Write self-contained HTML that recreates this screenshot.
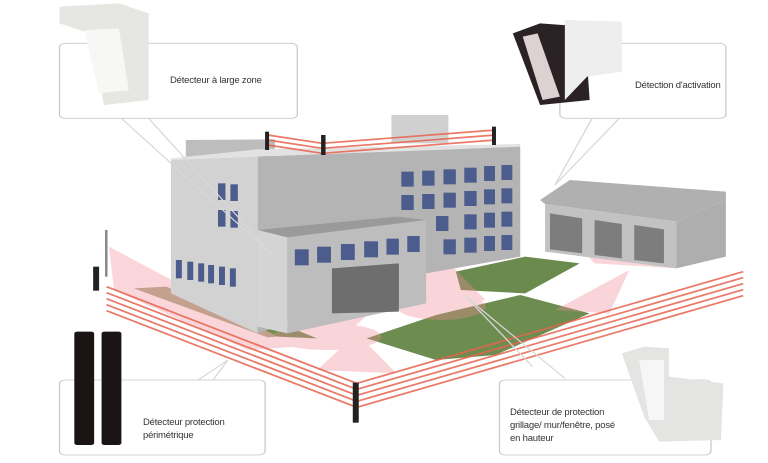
<!DOCTYPE html>
<html><head><meta charset="utf-8"><style>
html,body{margin:0;padding:0;background:#fff;}
#w{position:relative;width:768px;height:463px;overflow:hidden;font-family:"Liberation Sans",sans-serif;}
svg{position:absolute;left:0;top:0;}
.t{position:absolute;font-size:9.5px;color:#333;line-height:13px;letter-spacing:-0.2px;}
</style></head><body><div id="w">
<svg width="768" height="463" viewBox="0 0 1550 1389" preserveAspectRatio="none">
<!-- callout boxes -->
<g fill="#fff" stroke="#c8c8c8" stroke-width="2.5">
<rect x="120" y="130" width="480" height="225" rx="12"/>
<rect x="1130" y="130" width="335" height="225" rx="12"/>
<rect x="120" y="1140" width="415" height="225" rx="12"/>
<rect x="1008" y="1140" width="427" height="225" rx="12"/>
</g>
<!-- ground -->
<polygon points="270,865 335,860 595,1005 540,1012" fill="#8a8a5a" opacity="0.7"/>
<polygon points="520,980 560,1010 640,1015 590,985" fill="#6f8f50"/>
<polygon points="920,815 1060,770 1170,790 1060,880 930,870" fill="#6a8a4e"/>
<polygon points="740,1015 880,945 1050,885 1190,940 1000,1065 880,1080" fill="#6d8d50"/>
<!-- pink zones -->
<g fill="#f08a98" opacity="0.35">
<polygon points="220,740 600,1040 500,1050 230,870"/>
<polygon points="580,790 760,920 700,1000 620,990"/>
<polygon points="860,720 980,900 820,940"/>
<polygon points="1270,810 1230,940 1120,930"/>
<polygon points="720,1000 800,1120 640,1110"/>
<polygon points="1100,630 1365,760 1365,805 1200,790"/>
<ellipse cx="890" cy="920" rx="90" ry="40"/>
<ellipse cx="660" cy="1010" rx="110" ry="40"/>
</g>
<!-- main building -->
<polygon points="375,420 555,418 555,470 375,470" fill="#bdbdbd"/>
<polygon points="790,345 905,345 905,430 790,430" fill="#d0d0d0"/>
<polygon points="345,475 520,448 1050,432 1050,440 520,470 345,480" fill="#e2e2e2"/>
<polygon points="345,480 520,470 520,1000 345,880" fill="#d2d2d2"/>
<polygon points="520,470 1050,440 1050,770 860,820 520,1000" fill="#b4b4b4"/>
<g fill="#4c5c8c">
<rect x="810" y="515" width="25" height="45"/><rect x="852" y="512" width="25" height="45"/><rect x="895" y="508" width="25" height="45"/><rect x="937" y="503" width="25" height="45"/><rect x="977" y="498" width="22" height="45"/><rect x="1012" y="495" width="22" height="45"/>
<rect x="810" y="585" width="25" height="45"/><rect x="852" y="582" width="25" height="45"/><rect x="895" y="578" width="25" height="45"/><rect x="937" y="573" width="25" height="45"/><rect x="977" y="568" width="22" height="45"/><rect x="1012" y="565" width="22" height="45"/>
<rect x="880" y="648" width="25" height="45"/><rect x="937" y="643" width="25" height="45"/><rect x="977" y="638" width="22" height="45"/><rect x="1012" y="635" width="22" height="45"/>
<rect x="895" y="718" width="25" height="45"/><rect x="937" y="713" width="25" height="45"/><rect x="977" y="708" width="22" height="45"/><rect x="1012" y="705" width="22" height="45"/>
<rect x="440" y="550" width="15" height="50"/><rect x="465" y="553" width="15" height="50"/>
<rect x="440" y="630" width="15" height="50"/><rect x="465" y="633" width="15" height="50"/>
<rect x="355" y="780" width="12" height="55"/><rect x="378" y="785" width="12" height="55"/><rect x="400" y="790" width="12" height="55"/><rect x="420" y="795" width="12" height="55"/><rect x="442" y="800" width="12" height="55"/><rect x="464" y="805" width="12" height="55"/>
</g>
<!-- annex -->
<polygon points="520,690 800,650 860,660 580,712" fill="#9a9a9a"/>
<polygon points="520,690 580,712 580,1000 520,980" fill="#d4d4d4"/>
<polygon points="580,712 860,660 860,910 580,1000" fill="#bdbdbd"/>
<g fill="#4c5c8c">
<rect x="595" y="748" width="28" height="48"/><rect x="640" y="740" width="28" height="48"/><rect x="688" y="732" width="28" height="48"/><rect x="735" y="724" width="28" height="48"/><rect x="780" y="716" width="25" height="48"/><rect x="822" y="708" width="25" height="48"/>
</g>
<polygon points="670,805 805,790 805,935 670,940" fill="#6e6e6e"/>
<!-- garage -->
<polygon points="1090,600 1150,540 1465,575 1465,600 1365,665 1100,612" fill="#b0b0b0"/>
<polygon points="1100,612 1365,665 1365,805 1100,755" fill="#c2c2c2"/>
<polygon points="1365,665 1465,600 1465,770 1365,805" fill="#aeaeae"/>
<g fill="#7d7d7d"><polygon points="1110,640 1175,655 1175,760 1110,748"/><polygon points="1200,660 1255,672 1255,775 1200,765"/><polygon points="1280,675 1340,688 1340,790 1280,780"/></g>
<!-- red beams -->
<g stroke="#e8624e" stroke-width="5" fill="none" opacity="0.85">
<polyline points="215,860 720,1150 1500,815"/>
<polyline points="215,878 720,1168 1500,833"/>
<polyline points="215,896 720,1186 1500,851"/>
<polyline points="215,914 720,1204 1500,869"/>
<polyline points="215,932 720,1222 1500,887"/>
<polyline points="540,405 650,430 1000,390"/>
<polyline points="540,420 650,445 1000,405"/>
<polyline points="540,435 650,460 1000,420"/>
</g>
<!-- poles -->
<g fill="#222"><rect x="188" y="800" width="12" height="72"/><rect x="712" y="1148" width="12" height="120"/><rect x="535" y="395" width="8" height="55"/><rect x="648" y="405" width="9" height="60"/><rect x="993" y="380" width="8" height="55"/></g>
<rect x="212" y="690" width="5" height="140" fill="#888"/>
<!-- callout pointers -->
<g stroke="#d8d8d8" stroke-width="3" fill="none">
<polyline points="245,355 550,765 300,355"/>
<polyline points="1195,355 1120,555 1250,355"/>
<polyline points="400,1140 460,1080 430,1140"/>
<polyline points="1140,1135 940,890 1075,1100"/>
</g>
<!-- devices -->
<polygon points="120,20 240,10 300,40 300,300 210,315 180,100 120,70" fill="#e6e6e3"/>
<polygon points="170,90 240,85 260,270 200,280" fill="#f7f7f5"/>
<polygon points="1035,100 1090,70 1180,80 1190,300 1090,315" fill="#2b2225"/>
<polygon points="1055,110 1085,100 1130,290 1095,300" fill="#dcd2d2"/>
<polygon points="1140,60 1255,65 1255,215 1185,230 1140,300" fill="#eeeeee"/>
<rect x="150" y="995" width="40" height="340" rx="6" fill="#1a1414"/>
<rect x="205" y="995" width="40" height="340" rx="6" fill="#1a1414"/>
<polygon points="1255,1060 1300,1040 1350,1045 1350,1130 1460,1150 1455,1320 1330,1325 1300,1250" fill="#e4e4e2"/>
<polygon points="1290,1080 1340,1080 1340,1260 1310,1260" fill="#f6f6f6"/>
</svg>
<div class="t" style="left:170px;top:74px;">Détecteur à large zone</div>
<div class="t" style="left:635px;top:79px;">Détection d'activation</div>
<div class="t" style="left:143px;top:416px;">Détecteur protection<br>périmétrique</div>
<div class="t" style="left:510px;top:406px;">Détecteur de protection<br>grillage/ mur/fenêtre, posé<br>en hauteur</div>
</div></body></html>
